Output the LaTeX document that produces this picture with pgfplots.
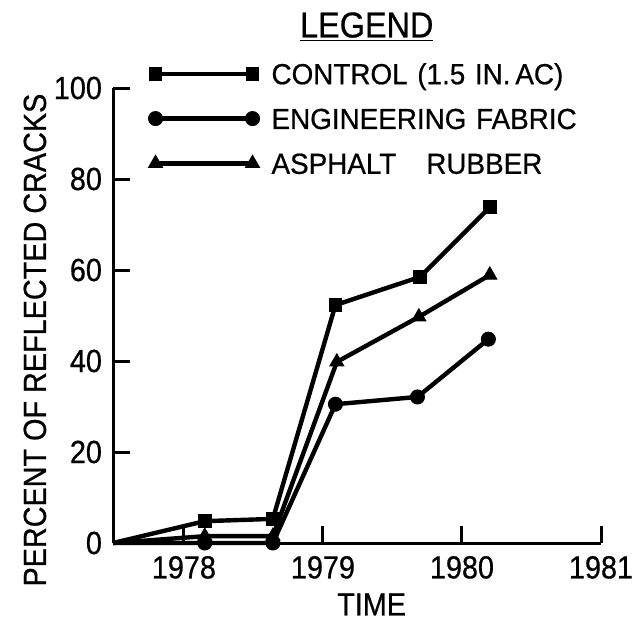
\documentclass[border=0pt]{standalone}
\usepackage{pgfplots}
\pgfplotsset{compat=1.18}
\usepackage{fontspec}
\setmainfont[FakeStretch=0.9,FakeBold=0.6]{Liberation Sans}
\newfontfamily\legfont[FakeStretch=0.96,FakeBold=0.6,WordSpace=1.25]{Liberation Sans}
\begin{document}
\begin{tikzpicture}
\useasboundingbox (0,0) rectangle (321pt,314pt);
\begin{axis}[
  at={(56.5pt,42.5pt)}, anchor=south west,
  scale only axis, width=244pt, height=227.5pt,
  xmin=1977.49, xmax=1981, ymin=0, ymax=100,
  axis lines*=left,
  axis line style={line width=1.5pt},
  clip=false,
  xtick={1978,1979,1980,1981},
  xticklabels={1978,1979,1980,1981},
  ytick={0,20,40,60,80,100},
  tick align=inside,
  major tick length=8.5pt,
  every tick/.style={line width=1.5pt, black},
  tick label style={font=\fontsize{16}{18}\selectfont},
  /pgf/number format/assume math mode=true,
  xticklabel style={yshift=-3pt},
  yticklabel style={xshift=-2pt},
  xlabel={TIME},
  ylabel={PERCENT OF REFLECTED CRACKS},
  label style={font=\fontsize{16}{18}\selectfont},
  xlabel style={at={(axis description cs:0.53,-0.135)}, anchor=center},
  ylabel style={at={(axis description cs:-0.16,0.446)}, anchor=center, rotate=0},
  legend image code/.code={\draw[#1,mark repeat=1,mark phase=1] plot coordinates {(0pt,5.2pt) (48.5pt,5.2pt)};},
  legend style={at={(axis description cs:0.072,1.055)}, anchor=north west, draw=none, fill=none,
    inner sep=0pt, row sep=12pt, column sep=6pt,
    nodes={inner sep=0pt, text height=10.4pt, text depth=0pt, anchor=base west},
    font=\legfont\fontsize{14.5}{16}\selectfont},
  legend cell align=left,
]
\addplot[black, line width=2.2pt, mark=square*, mark size=3.2pt, mark phase=2, mark repeat=1,
  mark options={solid, fill=black, line width=0.5pt}] coordinates {
  (1977.49,0) (1978.15,4.8) (1978.64,5.3) (1979.09,52.3) (1979.70,58.5) (1980.20,73.8)};
\addlegendentry{CONTROL (1.5 IN.\,AC)}
\addplot[black, line width=2.2pt, mark=*, mark size=3.5pt, mark phase=2, mark repeat=1,
  mark options={solid, fill=black, line width=0.5pt}] coordinates {
  (1977.49,0) (1978.15,0) (1978.64,0) (1979.09,30.5) (1979.68,32.1) (1980.19,44.8)};
\addlegendentry{ENGINEERING FABRIC}
\addplot[black, line width=2.2pt, mark=triangle*, mark size=4pt, mark phase=2, mark repeat=1,
  mark options={solid, fill=black, line width=0.5pt}] coordinates {
  (1977.49,0) (1978.15,1.5) (1978.64,1.5) (1979.10,39.8) (1979.69,49.7) (1980.20,58.9)};
\addlegendentry{ASPHALT\hspace{15pt}RUBBER}
\node[font=\fontsize{18}{20}\selectfont] at (axis description cs:0.52,1.134) {\underline{LEGEND}};
\end{axis}
\end{tikzpicture}
\end{document}
